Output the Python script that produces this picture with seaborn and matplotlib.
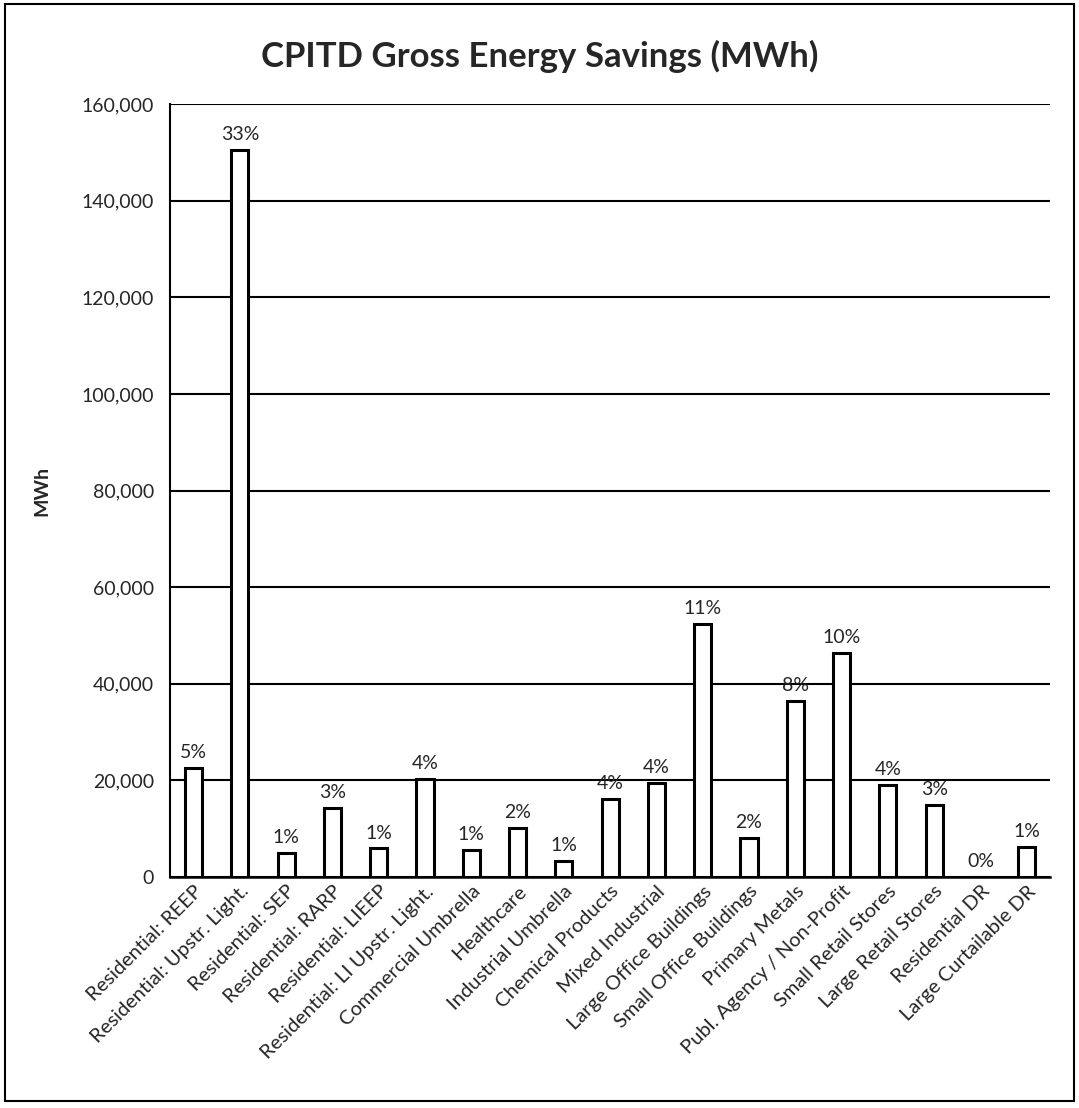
import numpy as np
import pandas as pd
import matplotlib.pyplot as plt
import seaborn as sns
from matplotlib.patches import Rectangle
from matplotlib.ticker import FuncFormatter

# data
programs = [
    "Residential: REEP", "Residential: Upstr. Light.", "Residential: SEP",
    "Residential: RARP", "Residential: LIEEP", "Residential: LI Upstr. Light.",
    "Commercial Umbrella", "Healthcare", "Industrial Umbrella",
    "Chemical Products", "Mixed Industrial", "Large Office Buildings",
    "Small Office Buildings", "Primary Metals", "Publ. Agency / Non-Profit",
    "Small Retail Stores", "Large Retail Stores", "Residential DR",
    "Large Curtailable DR",
]
savings_mwh = [22500, 150600, 5000, 14300, 5900, 20200, 5500, 10100, 3300,
               16100, 19400, 52400, 8100, 36500, 46300, 19000, 15000, 0, 6200]
share_labels = ["5%", "33%", "1%", "3%", "1%", "4%", "1%", "2%", "1%",
                "4%", "4%", "11%", "2%", "8%", "10%", "4%", "3%", "0%", "1%"]

df = pd.DataFrame({"program": programs, "MWh": savings_mwh})

sns.set_style("white")
plt.rcParams['font.family'] = ['Lato', 'DejaVu Sans']

fig = plt.figure(figsize=(10.79, 11.08), dpi=100)
ax = fig.add_axes([0.158, 0.2085, 0.815, 0.6975])

sns.barplot(data=df, x="program", y="MWh", color="white", edgecolor="black",
            linewidth=2.2, width=0.37, ax=ax, zorder=3)

# percentage labels above the bars
ax.bar_label(ax.containers[0], labels=share_labels, padding=5, fontsize=14)

ax.set_ylim(0, 160000)
ax.set_yticks(np.arange(0, 160001, 20000))
ax.yaxis.set_major_formatter(FuncFormatter(lambda v, p: f"{int(v):,}"))
ax.yaxis.grid(True, color="black", linewidth=1.5, zorder=0)
ax.set_axisbelow(True)

ax.tick_params(axis="y", length=6, width=1.5, color="black", labelsize=14, pad=6)
ax.tick_params(axis="x", length=0, labelsize=14.5, pad=4)
plt.setp(ax.get_xticklabels(), rotation=45, ha="right", rotation_mode="anchor")

for side in ["top", "right"]:
    ax.spines[side].set_visible(False)
ax.spines["left"].set_color("black")
ax.spines["left"].set_linewidth(1.5)
ax.spines["bottom"].set_color("black")
ax.spines["bottom"].set_linewidth(1.8)

ax.set_xlabel("")
ax.set_ylabel("MWh", fontsize=14, fontweight="bold", labelpad=22)

fig.text(0.5, 0.949, "CPITD Gross Energy Savings (MWh)", ha="center", va="center",
         fontsize=25, fontweight="bold")

# chart border
fig.patches.append(Rectangle((0.005, 0.006), 0.99, 0.99, transform=fig.transFigure,
                             fill=False, edgecolor="black", linewidth=1.5))

plt.savefig("out.png", dpi=100)
plt.close(fig)
